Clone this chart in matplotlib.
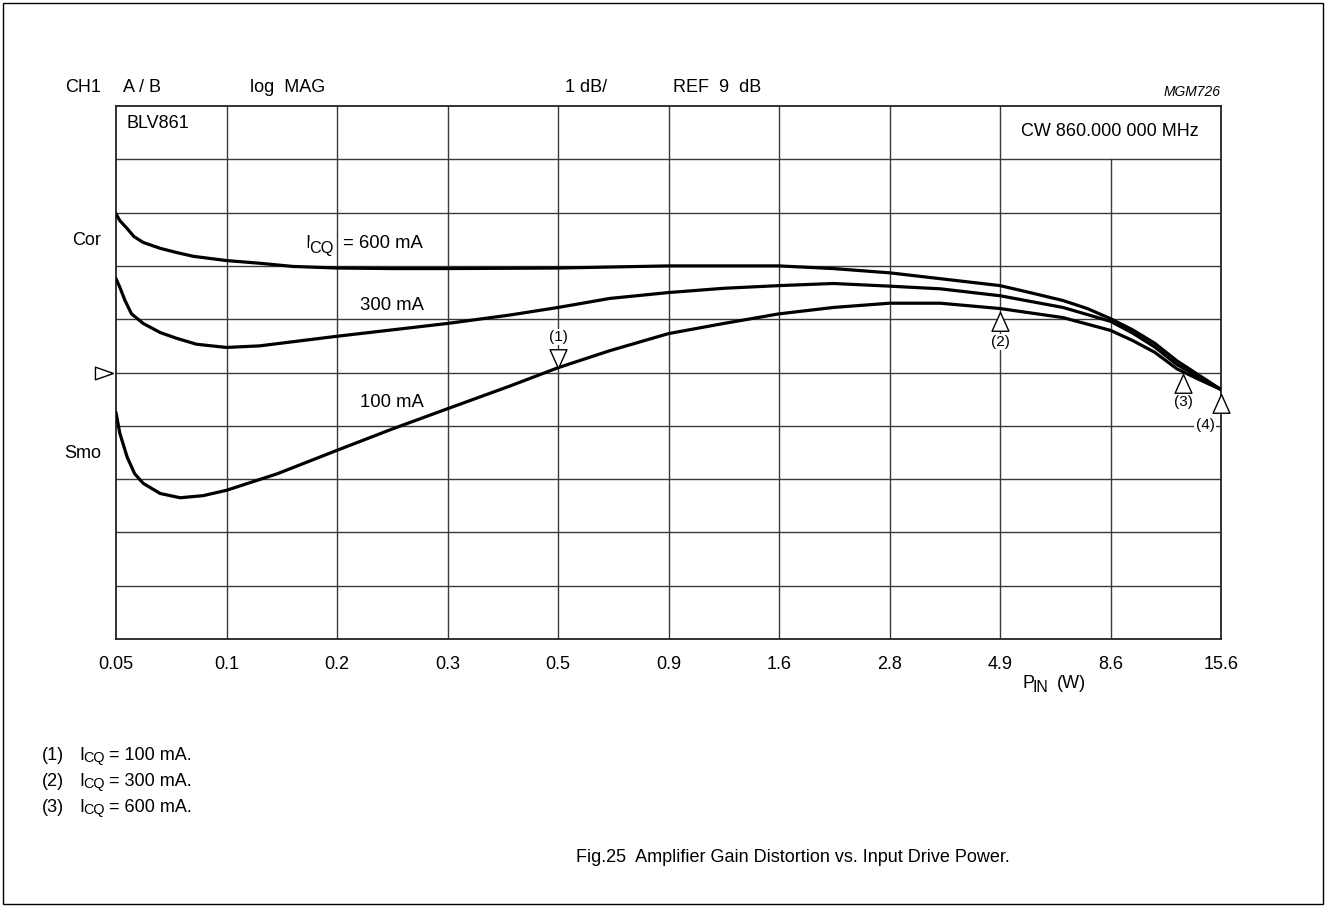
import numpy as np
import matplotlib
matplotlib.use("Agg")
import matplotlib.pyplot as plt
from matplotlib.patches import Rectangle

plt.rcParams['font.family'] = ['Liberation Sans', 'DejaVu Sans']

# ---------------- data ----------------
p_min, p_max = 0.05, 15.6
tick_labels = ["0.05", "0.1", "0.2", "0.3", "0.5", "0.9", "1.6", "2.8", "4.9", "8.6", "15.6"]

# P_IN (W) and gain (dB)
p_600 = [0.05, 0.0510, 0.0530, 0.0549, 0.0576, 0.0629, 0.0686, 0.0747, 0.0888, 0.1055,
         0.1253, 0.1577, 0.2101, 0.2800, 0.4975, 0.8832, 1.568, 2.079, 2.786, 3.628,
         4.947, 5.777, 6.864, 7.786, 8.786, 9.855, 11.05, 12.40, 13.91, 15.6]
g_600 = [11.98, 11.85, 11.70, 11.55, 11.44, 11.33, 11.25, 11.18, 11.10, 11.05,
         10.99, 10.96, 10.95, 10.95, 10.96, 11.00, 11.00, 10.95, 10.87, 10.76,
         10.63, 10.50, 10.35, 10.20, 10.01, 9.80, 9.55, 9.22, 8.95, 8.68]

p_300 = [0.05, 0.0510, 0.0524, 0.0542, 0.0576, 0.0629, 0.0686, 0.0760, 0.0888, 0.1055,
         0.1577, 0.2800, 0.3885, 0.4975, 0.6514, 0.8832, 1.177, 1.568, 2.079, 2.786,
         3.628, 4.947, 6.864, 8.786, 9.855, 11.05, 12.40, 13.91, 15.6]
g_300 = [10.76, 10.60, 10.35, 10.10, 9.92, 9.75, 9.64, 9.53, 9.47, 9.50,
         9.68, 9.92, 10.08, 10.22, 10.39, 10.50, 10.58, 10.63, 10.67, 10.62,
         10.57, 10.44, 10.22, 9.96, 9.74, 9.48, 9.15, 8.92, 8.68]

p_100 = [0.05, 0.0510, 0.0530, 0.0551, 0.0576, 0.0629, 0.0698, 0.0787, 0.0888, 0.1156,
         0.1577, 0.2101, 0.2800, 0.3885, 0.4975, 0.6514, 0.8832, 1.177, 1.568, 2.079,
         2.786, 3.628, 4.947, 6.864, 8.786, 9.855, 11.05, 12.40, 13.91, 15.6]
g_100 = [8.25, 7.86, 7.41, 7.10, 6.92, 6.73, 6.65, 6.69, 6.79, 7.10,
         7.54, 7.94, 8.32, 8.75, 9.09, 9.41, 9.73, 9.92, 10.10, 10.22,
         10.30, 10.30, 10.20, 10.03, 9.79, 9.60, 9.38, 9.07, 8.87, 8.68]

# markers: (label, P, dB, direction)
mk_labels = ["(1)", "(2)", "(3)", "(4)"]
mk_p = [0.4975, 4.947, 12.8, 15.6]
mk_g = [9.09, 10.13, 8.98, 8.60]
mk_dir = ["down", "up", "up", "up"]

notes = ["100", "300", "600"]

ref_db = 9
y_lo, y_hi = 4, 14

# ---------------- figure ----------------
W, H = 1326, 907
fig = plt.figure(figsize=(W / 100, H / 100), dpi=100)
L, R, T, B = 116, 1221, 106, 639
ax = fig.add_axes([L / W, 1 - B / H, (R - L) / W, (B - T) / H])
ax.set_xscale('log')
ax.set_xlim(p_min, p_max)
ax.set_ylim(y_lo, y_hi)

ratio = (p_max / p_min) ** 0.1
xt = [p_min * ratio ** i for i in range(11)]
ax.set_xticks(xt)
ax.set_xticklabels(tick_labels, fontsize=13)
ax.set_xticks([], minor=True)
ax.tick_params(axis='x', length=0, pad=12)
ax.set_yticks([])
for s in ax.spines.values():
    s.set_linewidth(1.3)
    s.set_color('#222222')

gc = '#3a3a3a'
for i in range(1, 10):
    ymax = 0.9 if i == 9 else 1.0
    ax.axvline(xt[i], ymin=0, ymax=ymax, color=gc, lw=1.0, zorder=1)
for j in range(y_lo + 1, y_hi):
    ax.axhline(j, color=gc, lw=1.0, zorder=1)

lw = 2.3
for px_, gy_ in [(p_600, g_600), (p_300, g_300), (p_100, g_100)]:
    ax.plot(px_, gy_, color='black', lw=lw, zorder=3,
            solid_capstyle='round', solid_joinstyle='round')

down_tri = [(0, 0), (-0.45, 1), (0.45, 1), (0, 0)]
up_tri = [(0, 0), (-0.45, -1), (0.45, -1), (0, 0)]
for lab, p, g, d in zip(mk_labels, mk_p, mk_g, mk_dir):
    m = down_tri if d == "down" else up_tri
    ax.plot([p], [g], marker=m, markersize=27, markerfacecolor='white',
            markeredgecolor='black', markeredgewidth=1.0, zorder=5, clip_on=False)


def fx(px):
    return px / W


def fy(py):
    return 1 - py / H


wb = dict(facecolor='white', edgecolor='none', pad=0.5)
fig.text(fx(558), fy(337), "(1)", fontsize=11, ha='center', va='center', bbox=wb, zorder=6)
fig.text(fx(1000), fy(342), "(2)", fontsize=11, ha='center', va='center', bbox=wb, zorder=6)
fig.text(fx(1183), fy(402), "(3)", fontsize=11, ha='center', va='center')
fig.text(fx(1205), fy(425), "(4)", fontsize=11, ha='center', va='center',
         bbox=dict(facecolor='white', edgecolor='none', pad=1.0), zorder=6)

# reference marker on the left
rt = [(0, 0), (-1, 0.35), (-1, -0.35), (0, 0)]
ax.plot([-3 / (R - L)], [ref_db], transform=ax.get_yaxis_transform(), marker=rt,
        markersize=26, markerfacecolor='white', markeredgecolor='black',
        markeredgewidth=1.0, clip_on=False)

# header texts
hy = fy(88)
fig.text(fx(65), hy, "CH1", fontsize=13, va='center')
fig.text(fx(123), hy, "A / B", fontsize=13, va='center')
fig.text(fx(250), hy, "log  MAG", fontsize=13, va='center')
fig.text(fx(565), hy, "1 dB/", fontsize=13, va='center')
fig.text(fx(673), hy, "REF  9  dB", fontsize=13, va='center')
fig.text(fx(1221), fy(92), "MGM726", fontsize=10, style='italic', ha='right', va='center')

fig.text(fx(126), fy(123), "BLV861", fontsize=13, va='center')
fig.text(fx(1110), fy(132), "CW 860.000 000 MHz", fontsize=13, ha='center', va='center')

fig.text(fx(101), fy(240), "Cor", fontsize=13, ha='right', va='center')
fig.text(fx(101), fy(453), "Smo", fontsize=13, ha='right', va='center')


def sub_label(x_main, x_sub, x_rest, yc, main, sub, rest, fs, dy=5, scale=0.88, bbox=None):
    kw = dict(va='center', zorder=6)
    if bbox is not None:
        kw['bbox'] = bbox
    fig.text(fx(x_main), fy(yc), main, fontsize=fs, **kw)
    fig.text(fx(x_sub), fy(yc + dy), sub, fontsize=fs * scale, **kw)
    fig.text(fx(x_rest), fy(yc), rest, fontsize=fs, **kw)


tight = dict(facecolor='white', edgecolor='none', pad=0.2)
sub_label(305, 309.5, 343, 243, "I", "CQ", "= 600 mA", 13.3, dy=6, bbox=tight)
fig.text(fx(360), fy(305), "300 mA", fontsize=13.3, va='center')
fig.text(fx(360), fy(402), "100 mA", fontsize=13.3, va='center')

sub_label(1022, 1032, 1057, 683, "P", "IN", "(W)", 13, dy=5)

for k, n in enumerate(notes):
    yc = 755 + 26 * k
    fig.text(fx(42), fy(yc + 1), "(%d)" % (k + 1), fontsize=13, va='center')
    sub_label(79, 83, 109, yc, "I", "CQ", "= %s mA." % n, 13, dy=3, scale=0.8)

fig.text(fx(793), fy(857), "Fig.25  Amplifier Gain Distortion vs. Input Drive Power.",
         fontsize=13, ha='center', va='center')

fig.patches.append(Rectangle((3 / W, 3 / H), 1 - 6 / W, 1 - 6 / H, transform=fig.transFigure,
                             fill=False, edgecolor='black', lw=1.0))

fig.savefig("out.png", dpi=100)
